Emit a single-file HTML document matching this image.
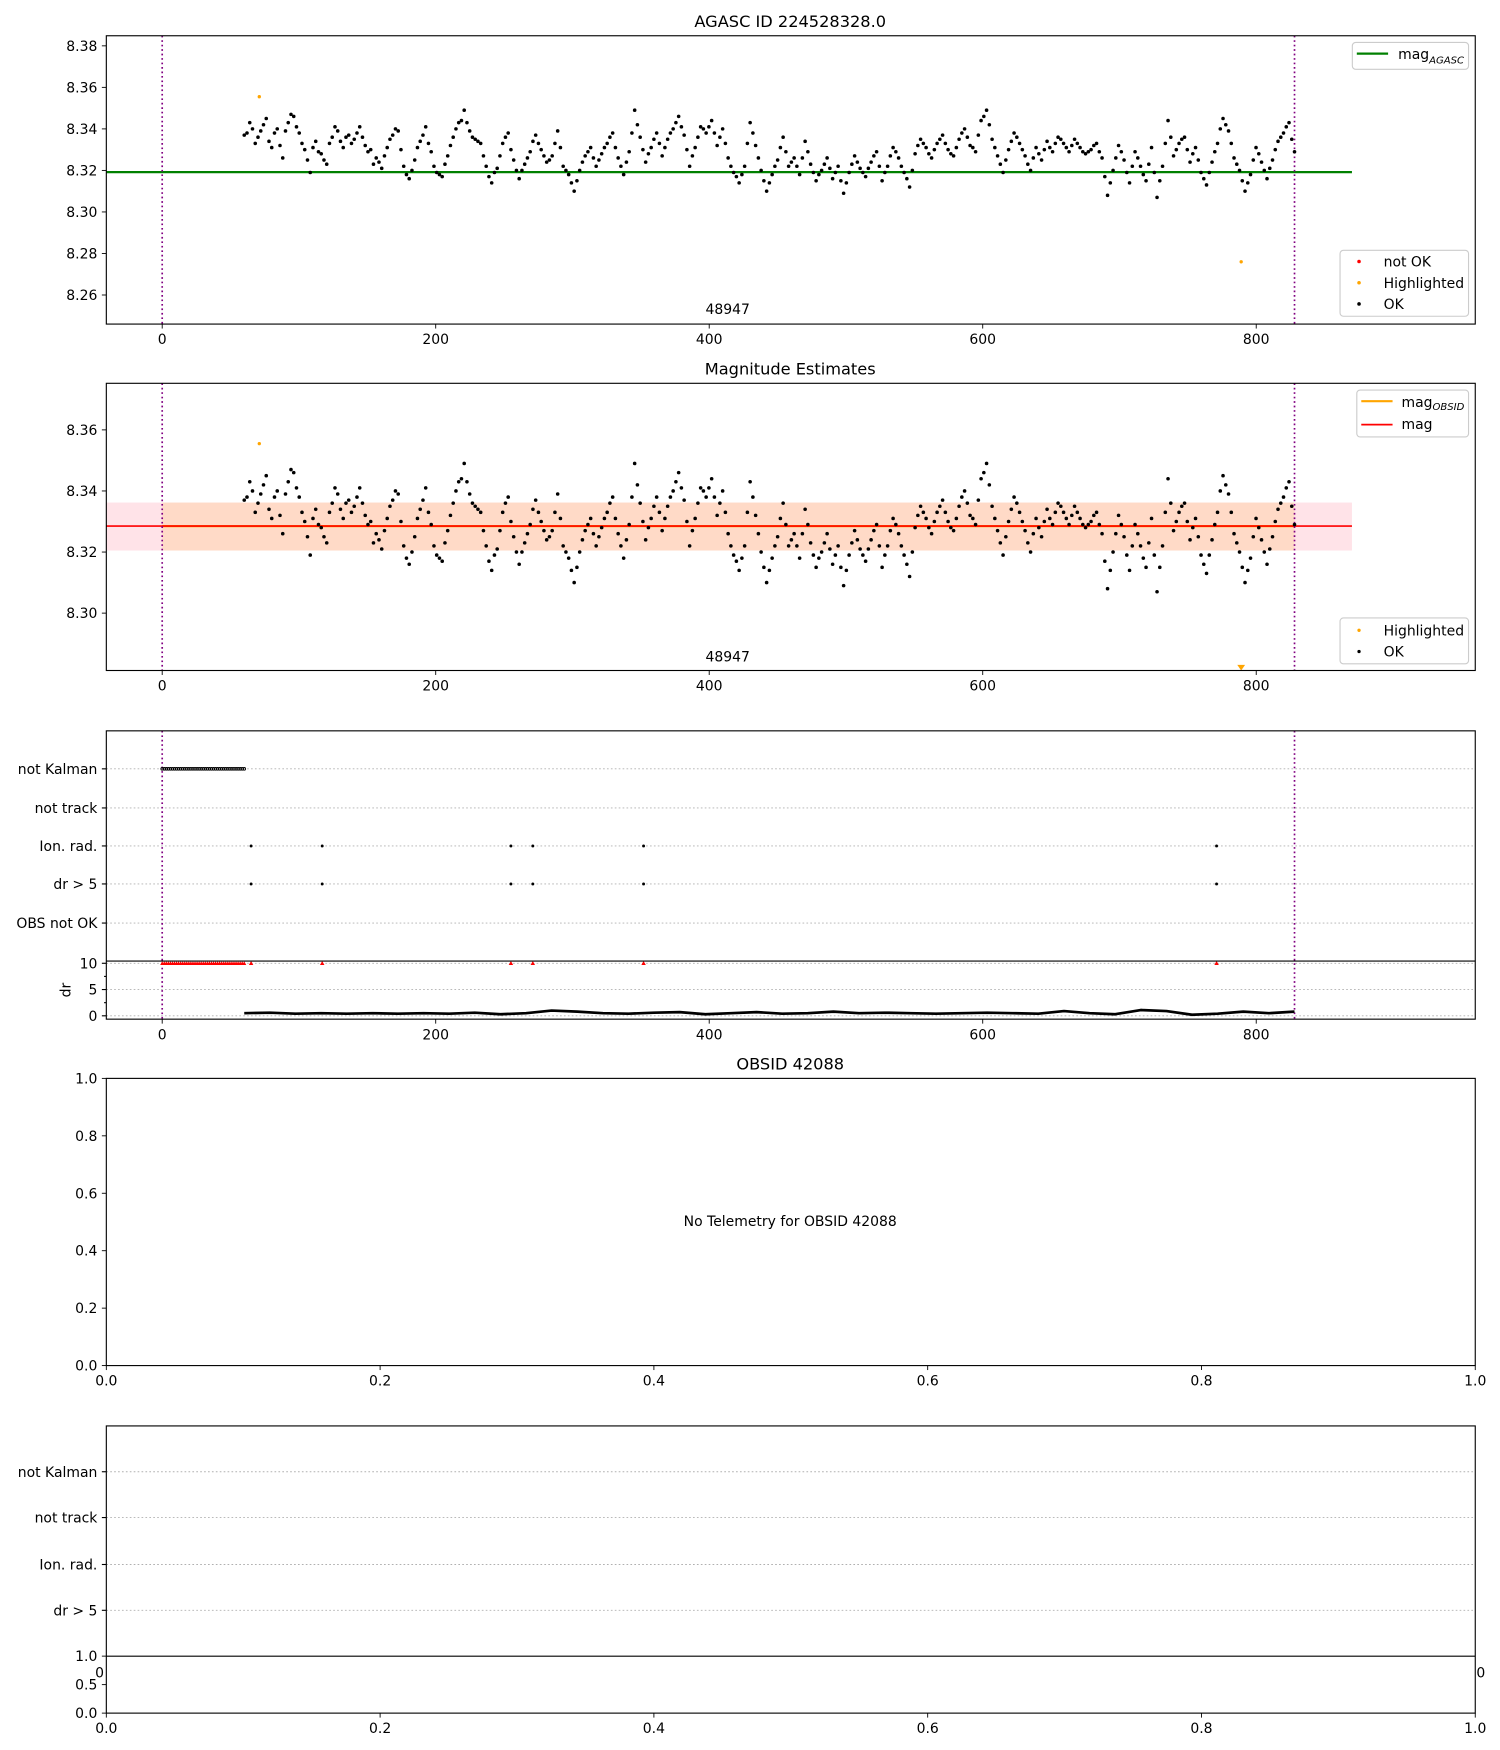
<!DOCTYPE html>
<html><head><meta charset="utf-8"><style>
html,body{margin:0;padding:0;background:#fff}
svg{display:block}
text{font-family:"DejaVu Sans","Liberation Sans",sans-serif;fill:#000}
</style></head><body>
<svg id="fig" width="1500" height="1750" viewBox="0 0 1342 1566" xmlns="http://www.w3.org/2000/svg"></svg>
<script>
// ---- data ----
const magValues = [
8.337,8.343,8.333,8.339,8.345,8.331,8.340,8.326,8.343,8.346,
8.338,8.330,8.319,8.334,8.328,8.323,8.336,8.339,8.331,8.337,
8.335,8.341,8.332,8.330,8.326,8.321,8.331,8.337,8.339,8.322,
8.316,8.325,8.334,8.341,8.329,8.319,8.317,8.327,8.336,8.343,
8.349,8.339,8.335,8.333,8.322,8.314,8.321,8.333,8.338,8.325,
8.316,8.323,8.329,8.337,8.330,8.324,8.327,8.339,8.322,8.318,
8.310,8.320,8.327,8.331,8.322,8.328,8.333,8.338,8.326,8.318,
8.329,8.349,8.336,8.324,8.331,8.338,8.327,8.335,8.340,8.346,
8.337,8.322,8.331,8.341,8.338,8.344,8.332,8.340,8.326,8.319,
8.314,8.322,8.343,8.332,8.320,8.310,8.318,8.325,8.336,8.322,
8.326,8.318,8.334,8.323,8.315,8.320,8.326,8.316,8.322,8.309,
8.319,8.327,8.321,8.317,8.324,8.329,8.315,8.322,8.331,8.326,
8.319,8.312,8.328,8.335,8.331,8.326,8.333,8.337,8.330,8.327,
8.335,8.340,8.332,8.329,8.344,8.349,8.335,8.327,8.319,8.330,
8.338,8.333,8.327,8.320,8.331,8.325,8.334,8.329,8.336,8.333,
8.329,8.335,8.331,8.328,8.330,8.333,8.326,8.308,8.320,8.332,
8.325,8.314,8.329,8.322,8.315,8.331,8.307,8.322,8.344,8.327,
8.333,8.336,8.324,8.331,8.319,8.313,8.324,8.333,8.345,8.339,
8.326,8.320,8.310,8.318,8.331,8.324,8.316,8.325,8.334,8.338,8.343,8.329];
const magValuesB = [
8.338,8.340,8.336,8.342,8.334,8.338,8.332,8.339,8.347,8.341,
8.333,8.325,8.331,8.329,8.325,8.333,8.341,8.334,8.336,8.333,
8.338,8.336,8.329,8.323,8.324,8.327,8.335,8.340,8.330,8.318,
8.320,8.331,8.337,8.333,8.322,8.318,8.323,8.332,8.340,8.344,
8.343,8.336,8.334,8.327,8.317,8.319,8.327,8.336,8.330,8.320,
8.320,8.326,8.334,8.333,8.327,8.325,8.333,8.331,8.320,8.314,
8.315,8.324,8.329,8.326,8.325,8.331,8.336,8.331,8.322,8.324,
8.338,8.342,8.330,8.328,8.335,8.333,8.331,8.338,8.343,8.341,
8.330,8.327,8.336,8.340,8.341,8.338,8.336,8.333,8.322,8.317,
8.318,8.333,8.338,8.326,8.315,8.314,8.322,8.331,8.329,8.324,
8.322,8.326,8.329,8.319,8.318,8.323,8.321,8.319,8.315,8.314,
8.323,8.324,8.319,8.321,8.327,8.322,8.319,8.327,8.329,8.322,
8.316,8.320,8.332,8.333,8.328,8.330,8.335,8.333,8.328,8.331,
8.338,8.336,8.331,8.337,8.346,8.342,8.331,8.323,8.325,8.334,
8.336,8.330,8.323,8.326,8.328,8.330,8.331,8.333,8.335,8.331,
8.332,8.333,8.329,8.329,8.332,8.329,8.317,8.314,8.326,8.329,
8.319,8.322,8.326,8.318,8.323,8.319,8.315,8.333,8.336,8.330,
8.335,8.330,8.328,8.325,8.316,8.319,8.329,8.340,8.342,8.333,
8.323,8.315,8.314,8.325,8.328,8.320,8.321,8.330,8.336,8.341,8.335];
const magStart = 60, magEnd = 828;
const highlightedX = [71, 789];
const highlightedMag = [8.3555, 8.276];
const magAgasc = 8.3192;
const magObsid = 8.3285, magObsidLow = 8.3205, magObsidHigh = 8.3362;
const obsStart = 0, obsEnd = 828;
const notKalmanStart = 0, notKalmanEnd = 60;
const flagEventX = [65, 117, 255, 271, 352, 771];
const drValues = [0.5,0.6,0.4,0.5,0.4,0.5,0.4,0.5,0.4,0.6,0.3,0.5,1.0,0.8,0.5,0.4,0.6,0.7,0.3,0.5,0.7,0.4,0.5,0.8,0.5,0.6,0.5,0.4,0.5,0.6,0.5,0.4,0.9,0.5,0.3,1.1,0.9,0.2,0.4,0.8,0.5,0.8];
const xTicks = [0,200,400,600,800];
const magTicks1 = [8.26,8.28,8.30,8.32,8.34,8.36,8.38];
const magTicks2 = [8.30,8.32,8.34,8.36];
const flagLabels = ["not Kalman","not track","Ion. rad.","dr > 5","OBS not OK"];
const flagLabels2 = ["not Kalman","not track","Ion. rad.","dr > 5"];
const unitTicks = [0,0.2,0.4,0.6,0.8,1.0];

const NS="http://www.w3.org/2000/svg";
const svg=document.getElementById('fig');
function el(tag,attrs,parent,txt){const e=document.createElementNS(NS,tag);for(const k in attrs)e.setAttribute(k,attrs[k]);if(txt!==undefined)e.textContent=txt;(parent||svg).appendChild(e);return e;}
function group(name){const g=el('g',{});return g;}
const L=95,R=1320;
const xs=v=>145+(v)*(1124-145)/800;
const ux=v=>L+v*(R-L);
function magX(i){return magStart+i*(magEnd-magStart)/(magValues.length-1);}
function magXB(i){return magStart+(i+0.5)*(magEnd-magStart)/(magValues.length-1);}
function xAxis(g,y,ticks,fmt,sc){ticks.forEach(t=>{const x=sc(t);el('line',{x1:x,x2:x,y1:y,y2:y+4,stroke:'#000','stroke-width':0.8},g);el('text',{x:x,y:y+18,'text-anchor':'middle','font-size':12.5},g,fmt(t));});}
function yAxis(g,ticks,sc,fmt){ticks.forEach(t=>{const y=sc(t);el('line',{x1:L-4,x2:L,y1:y,y2:y,stroke:'#000','stroke-width':0.8},g);el('text',{x:L-8,y:y+4.5,'text-anchor':'end','font-size':12.5},g,fmt(t));});}
function frame(g,top,bot){el('rect',{x:L,y:top,width:R-L,height:bot-top,fill:'none',stroke:'#000','stroke-width':1},g);}
function vlines(g,top,bot){[obsStart,obsEnd].forEach(v=>el('line',{x1:xs(v),x2:xs(v),y1:top,y2:bot,stroke:'purple','stroke-width':1.5,'stroke-dasharray':'1.5,2.5'},g));}
function clipRect(id,top,bot){const d=el('clipPath',{id:id});el('rect',{x:L,y:top,width:R-L,height:bot-top},d);}
function drawMag(pts,ys){
 magValues.forEach((v,i)=>{const c=el('circle',{cx:xs(magX(i)),cy:ys(v),r:1.6,fill:'#000'},pts);});
 magValuesB.forEach((v,i)=>{const c=el('circle',{cx:xs(magXB(i)),cy:ys(v),r:1.6,fill:'#000'},pts);});
}

// ---- Panel 1 ----
(function(){
 const g=group('agasc-panel');
 const top=32,bot=290; const ys=v=>152.5-(v-8.32)*1858;
 clipRect('c1',top,bot);
 el('text',{x:707,y:24,'text-anchor':'middle','font-size':14.5},g,'AGASC ID 224528328.0');
 const ln=el('line',{x1:L,x2:xs(870),y1:ys(magAgasc),y2:ys(magAgasc),stroke:'green','stroke-width':2},g);
 
 vlines(g,top,bot);
 const pts=el('g',{'clip-path':'url(#c1)'},g);
 drawMag(pts,ys);
 highlightedMag.forEach((v,i)=>{const c=el('circle',{cx:xs(highlightedX[i]),cy:ys(v),r:1.5,fill:'orange'},pts);});
 el('text',{x:651,y:281,'text-anchor':'middle','font-size':12.5},g,'48947');
 frame(g,top,bot); yAxis(g,magTicks1,ys,t=>t.toFixed(2)); xAxis(g,bot,xTicks,t=>t,xs);
 const lg=group('legend-agasc'); g.appendChild(lg);
 el('rect',{x:1210,y:38,width:104,height:24,rx:3,fill:'#fff',stroke:'#ccc'},lg);
 el('line',{x1:1214,x2:1242,y1:48,y2:48,stroke:'green','stroke-width':2},lg);
 const t=el('text',{x:1251,y:53,'font-size':12.5},lg,'mag');el('tspan',{'font-size':9,'font-style':'italic',dy:4},t,'AGASC');
 const lg2=group('legend-status'); g.appendChild(lg2);
 el('rect',{x:1199,y:224,width:115,height:59,rx:3,fill:'#fff',stroke:'#ccc'},lg2);
 [['red','not OK',234],['orange','Highlighted',253],['#000','OK',272]].forEach(a=>{el('circle',{cx:1216,cy:a[2],r:1.6,fill:a[0]},lg2);el('text',{x:1238,y:a[2]+4.5,'font-size':12.5},lg2,a[1]);});
})();

// ---- Panel 2 ----
(function(){
 const g=group('magnitude-estimates-panel');
 const top=343,bot=600; const ys=v=>494-(v-8.32)*2733;
 clipRect('c2',top,bot);
 el('text',{x:707,y:335,'text-anchor':'middle','font-size':14.5},g,'Magnitude Estimates');
 el('rect',{x:L,y:ys(magObsidHigh),width:xs(870)-L,height:ys(magObsidLow)-ys(magObsidHigh),fill:'#ffc0cb',opacity:0.45},g);
 el('rect',{x:xs(obsStart),y:ys(magObsidHigh),width:xs(obsEnd)-xs(obsStart),height:ys(magObsidLow)-ys(magObsidHigh),fill:'#ffa500',opacity:0.14},g);
 el('line',{x1:xs(obsStart),x2:xs(obsEnd),y1:ys(magObsid),y2:ys(magObsid),stroke:'orange','stroke-width':2},g);
 el('line',{x1:L,x2:xs(870),y1:ys(magObsid),y2:ys(magObsid),stroke:'red','stroke-width':1.5},g);
 vlines(g,top,bot);
 const pts=el('g',{'clip-path':'url(#c2)'},g);
 drawMag(pts,ys);
 highlightedMag.forEach((v,i)=>{const y=ys(v);if(y<bot){const c=el('circle',{cx:xs(highlightedX[i]),cy:y,r:1.5,fill:'orange'},pts);}else{const x=xs(highlightedX[i]);const p=el('polygon',{points:`${x-3.5},${bot-5} ${x+3.5},${bot-5} ${x},${bot}`,fill:'orange'},g);}});
 el('text',{x:651,y:592,'text-anchor':'middle','font-size':12.5},g,'48947');
 frame(g,top,bot); yAxis(g,magTicks2,ys,t=>t.toFixed(2)); xAxis(g,bot,xTicks,t=>t,xs);
 const lg=group('legend-mag'); g.appendChild(lg);
 el('rect',{x:1214,y:349,width:100,height:42,rx:3,fill:'#fff',stroke:'#ccc'},lg);
 el('line',{x1:1218,x2:1246,y1:359,y2:359,stroke:'orange','stroke-width':2},lg);
 const t=el('text',{x:1254,y:364,'font-size':12.5},lg,'mag');el('tspan',{'font-size':9,'font-style':'italic',dy:3},t,'OBSID');
 el('line',{x1:1218,x2:1246,y1:380,y2:380,stroke:'red','stroke-width':1.5},lg);
 el('text',{x:1254,y:384,'font-size':12.5},lg,'mag');
 const lg2=group('legend-status-2'); g.appendChild(lg2);
 el('rect',{x:1199,y:553,width:115,height:41,rx:3,fill:'#fff',stroke:'#ccc'},lg2);
 [['orange','Highlighted',564],['#000','OK',583]].forEach(a=>{el('circle',{cx:1216,cy:a[2],r:1.5,fill:a[0]},lg2);el('text',{x:1238,y:a[2]+4.5,'font-size':12.5},lg2,a[1]);});
})();

// ---- Panel 3 flags + dr ----
(function(){
 const g=group('flags-panel');
 const top=654,split=860,bot=912;
 const fy=[688,723,757,791,826];
 flagLabels.forEach((lab,i)=>{el('line',{x1:L,x2:R,y1:fy[i],y2:fy[i],stroke:'#b0b0b0','stroke-width':0.8,'stroke-dasharray':'1.5,2'},g);el('line',{x1:L-4,x2:L,y1:fy[i],y2:fy[i],stroke:'#000'},g);el('text',{x:L-8,y:fy[i]+4.5,'text-anchor':'end','font-size':12.5},g,lab);});
 const dy=v=>909-v*(909-862)/10;
 [0,5,10].forEach(t=>{el('line',{x1:L,x2:R,y1:dy(t),y2:dy(t),stroke:'#b0b0b0','stroke-width':0.8,'stroke-dasharray':'1.5,2'},g);el('line',{x1:L-4,x2:L,y1:dy(t),y2:dy(t),stroke:'#000'},g);el('text',{x:L-8,y:dy(t)+4.5,'text-anchor':'end','font-size':12.5},g,t);});
 [2.5,7.5].forEach(t=>el('line',{x1:L-2,x2:L,y1:dy(t),y2:dy(t),stroke:'#000'},g));
 el('text',{x:63,y:886,'text-anchor':'middle','font-size':12.5,transform:'rotate(-90 63 886)'},g,'dr');
 vlines(g,top,bot);
 for(let v=notKalmanStart;v<=notKalmanEnd;v+=1.5){const c=el('circle',{cx:xs(v),cy:fy[0],r:1.2,fill:'none',stroke:'#000','stroke-width':0.8},g);
  const p=el('polygon',{points:`${xs(v)-1.8},${dy(10)+1.5} ${xs(v)+1.8},${dy(10)+1.5} ${xs(v)},${dy(10)-1.8}`,fill:'red'},g);}
 flagEventX.forEach(v=>{[fy[2],fy[3]].forEach(y=>{const c=el('circle',{cx:xs(v),cy:y,r:1.3,fill:'#000'},g);});
  const p=el('polygon',{points:`${xs(v)-2},${dy(10)+1.5} ${xs(v)+2},${dy(10)+1.5} ${xs(v)},${dy(10)-2}`,fill:'red'},g);});
 const step=(obsEnd-notKalmanEnd)/(drValues.length-1);
 const pts=drValues.map((v,i)=>`${xs(notKalmanEnd+i*step)},${dy(v)}`).join(' ');
 const pl=el('polyline',{points:pts,fill:'none',stroke:'#000','stroke-width':2.4,'stroke-linejoin':'round'},g);
 el('line',{x1:L,x2:R,y1:split,y2:split,stroke:'#000','stroke-width':1},g);
 frame(g,top,bot); xAxis(g,bot,xTicks,t=>t,xs);
})();

// ---- Panel 4 ----
(function(){
 const g=group('obsid-panel');
 const top=965,bot=1222; const ys=v=>bot-v*(bot-top);
 el('text',{x:707,y:957,'text-anchor':'middle','font-size':14.5},g,'OBSID 42088');
 el('text',{x:707,y:1097,'text-anchor':'middle','font-size':12.5},g,'No Telemetry for OBSID 42088');
 frame(g,top,bot); yAxis(g,unitTicks,ys,t=>t.toFixed(1)); xAxis(g,bot,unitTicks,t=>t.toFixed(1),ux);
})();

// ---- Panel 5 ----
(function(){
 const g=group('obsid-flags-panel');
 const top=1276,split=1482,bot=1533;
 const fy=[1317,1358,1400,1441];
 flagLabels2.forEach((lab,i)=>{el('line',{x1:L,x2:R,y1:fy[i],y2:fy[i],stroke:'#b0b0b0','stroke-width':0.8,'stroke-dasharray':'1.5,2'},g);el('line',{x1:L-4,x2:L,y1:fy[i],y2:fy[i],stroke:'#000'},g);el('text',{x:L-8,y:fy[i]+4.5,'text-anchor':'end','font-size':12.5},g,lab);});
 const ys=v=>bot-v*(bot-split);
 yAxis(g,[0,0.5,1.0],ys,t=>t.toFixed(1));
 el('text',{x:89,y:1501,'text-anchor':'middle','font-size':12.5},g,'0');
 el('text',{x:1325,y:1501,'text-anchor':'middle','font-size':12.5},g,'0');
 el('line',{x1:L,x2:R,y1:split,y2:split,stroke:'#000'},g);
 frame(g,top,bot); xAxis(g,bot,unitTicks,t=>t.toFixed(1),ux);
})();
</script>
</body></html>
